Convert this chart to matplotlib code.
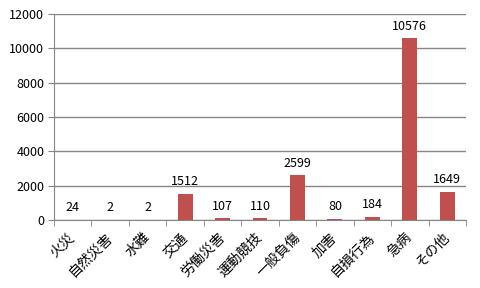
import matplotlib
matplotlib.use('Agg')
import matplotlib.pyplot as plt
import matplotlib.transforms as mtransforms
import numpy as np

plt.rcParams['font.family'] = ['Noto Sans CJK JP', 'DejaVu Sans']

categories = ['火災', '自然災害', '水難', '交通', '労働災害', '運動競技', '一般負傷', '加害', '自損行為', '急病', 'その他']
values = [24, 2, 2, 1512, 107, 110, 2599, 80, 184, 10576, 1649]
yticks = [0, 2000, 4000, 6000, 8000, 10000, 12000]

bar_color = '#C0504D'
grid_color = '#868686'

fig = plt.figure(figsize=(4.8, 2.88), dpi=100)
ax = fig.add_axes([54/480, 1 - 220/288, (466 - 54)/480, (220 - 14)/288])

x = np.arange(len(categories))
ax.bar(x, values, width=0.4, color=bar_color, zorder=3)

for xi, v in zip(x, values):
    ax.annotate(str(v), (xi, v), xytext=(0, 4), textcoords='offset points',
                ha='center', va='bottom', fontsize=9, color='black', zorder=4)

ax.set_xlim(-0.5, len(categories) - 0.5)
ax.set_ylim(0, 12000)
ax.set_yticks(yticks)
ax.set_yticklabels([str(t) for t in yticks], fontsize=9)
ax.yaxis.grid(True, color=grid_color, linewidth=1, zorder=0)

# category labels, ticks sit between bars
ax.set_xticks(x)
ax.set_xticklabels(categories, rotation=45, ha='right', va='center', fontsize=10,
                   rotation_mode='anchor')
shift = mtransforms.ScaledTranslation(5/100, 0, fig.dpi_scale_trans)
for lab in ax.get_xticklabels():
    lab.set_transform(lab.get_transform() + shift)
ax.tick_params(axis='x', which='major', length=0, pad=11)
ax.set_xticks(np.arange(-0.5, len(categories)), minor=True)
ax.tick_params(axis='x', which='minor', length=4, color=grid_color, direction='out')
ax.tick_params(axis='y', length=4, color=grid_color, direction='out', pad=3)

for side in ['top', 'right']:
    ax.spines[side].set_visible(False)
ax.spines['left'].set_color(grid_color)
ax.spines['bottom'].set_color(grid_color)

fig.savefig('out.png', dpi=100)
